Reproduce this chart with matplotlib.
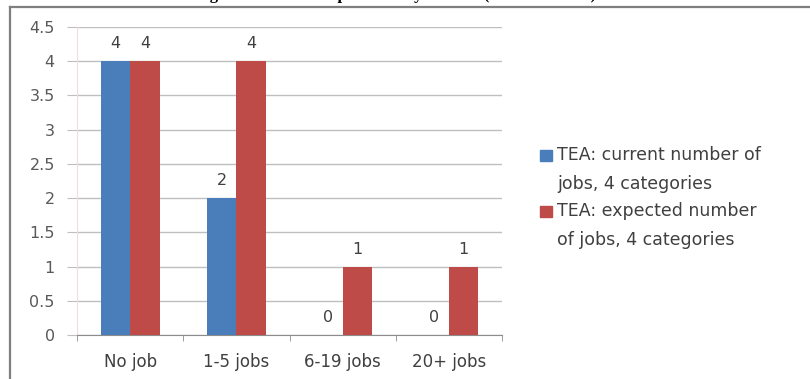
import numpy as np
import matplotlib.pyplot as plt
from matplotlib.patches import Rectangle
from matplotlib.lines import Line2D

# data
categories = ["No job", "1-5 jobs", "6-19 jobs", "20+ jobs"]
current_jobs = [4, 2, 0, 0]
expected_jobs = [4, 4, 1, 1]
series_labels = ["TEA: current number of\njobs, 4 categories",
                 "TEA: expected number\nof jobs, 4 categories"]
title = "Figure 5: Growth aspirations by Gender (Korea Overall)"

blue = "#4a7ebb"
red = "#be4b48"
text_col = "#404040"

W, H = 810, 379
fig = plt.figure(figsize=(W / 100, H / 100), dpi=100)

# clipped caption above the frame
fig.text(195 / W, 1 + 1 / H, title, ha="left", va="baseline",
         family="Liberation Serif", weight="bold", fontsize=12)

# frame around the chart (left and top edges are visible)
fig.add_artist(Line2D([10 / W, 10 / W], [0, 1 - 7 / H], transform=fig.transFigure,
                      color="#7f7f7f", lw=1.6))
fig.add_artist(Line2D([10 / W, 1], [1 - 7 / H, 1 - 7 / H], transform=fig.transFigure,
                      color="#7f7f7f", lw=1.6))

ax = fig.add_axes([77 / W, 1 - 335 / H, (502 - 77) / W, (335 - 27) / H])

x = np.arange(len(categories))
bw = 0.278
b1 = ax.bar(x - bw / 2, current_jobs, bw, color=blue, zorder=3)
b2 = ax.bar(x + bw / 2, expected_jobs, bw, color=red, zorder=3)
ax.bar_label(b1, padding=7, fontsize=11.5, color=text_col)
ax.bar_label(b2, padding=7, fontsize=11.5, color=text_col)

ax.set_xlim(-0.5, len(categories) - 0.5)
ax.set_ylim(0, 4.5)
ax.set_yticks(np.arange(0, 4.51, 0.5))
ax.set_yticklabels(["0", "0.5", "1", "1.5", "2", "2.5", "3", "3.5", "4", "4.5"])
ax.yaxis.grid(True, color="#bfbfbf", lw=1, zorder=0)
ax.tick_params(axis="y", length=7, color="#bfbfbf", labelsize=11.5,
               labelcolor="#595959", pad=9)

ax.set_xticks(x)
ax.set_xticklabels(categories)
ax.set_xticks(np.arange(-0.5, len(categories)), minor=True)
ax.tick_params(axis="x", which="major", length=0, labelsize=12,
               labelcolor=text_col, pad=13)
ax.tick_params(axis="x", which="minor", length=4, color="#8c8c8c")

for s in ["top", "right"]:
    ax.spines[s].set_visible(False)
ax.spines["left"].set_color("#f2dcdb")
ax.spines["bottom"].set_color("#8c8c8c")

# legend drawn by hand so the swatch sits on the first line
colors = [blue, red]
tops = [155, 211]
for lab, c, ty in zip(series_labels, colors, tops):
    fig.add_artist(Rectangle((540 / W, 1 - (ty + 6) / H), 12 / W, 11 / H,
                             transform=fig.transFigure, color=c))
    fig.text(557 / W, 1 - (ty - 9) / H, lab, ha="left", va="top",
             fontsize=12.5, color=text_col, linespacing=1.8)

fig.savefig("out.png", dpi=100)
